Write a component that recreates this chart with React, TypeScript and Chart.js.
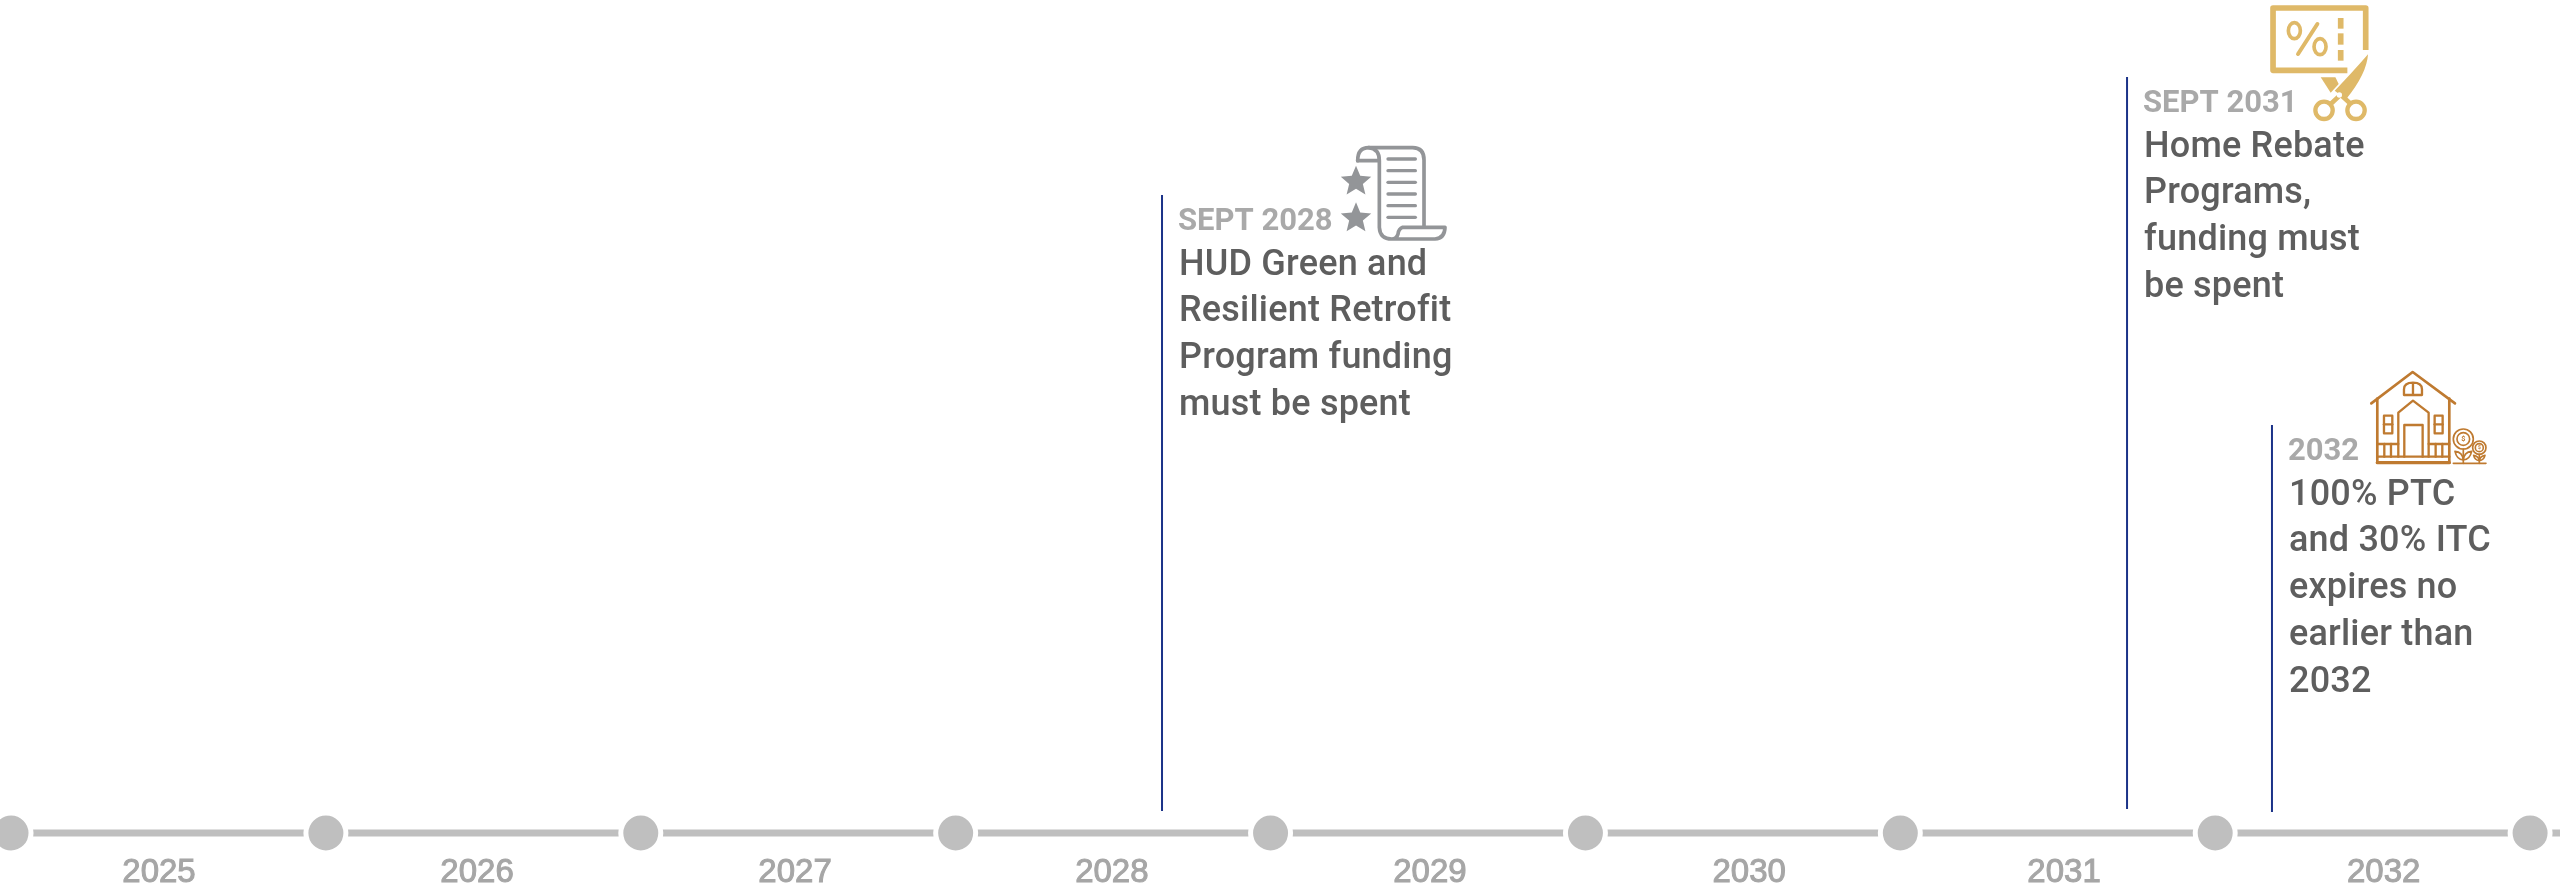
import React, { useEffect, useRef } from "react";
import { Chart, registerables } from "chart.js";

Chart.register(...registerables);

// Timeline nodes sit on year boundaries; year captions sit between them.
const nodeYears = [2025, 2026, 2027, 2028, 2029, 2030, 2031, 2032, 2033];
const yearLabels = ["2025", "2026", "2027", "2028", "2029", "2030", "2031", "2032"];
const yearLabelPositions = [2025.47, 2026.48, 2027.49, 2028.496, 2029.506, 2030.52, 2031.52, 2032.535];

// Milestones: date on the axis, and where each stem starts and ends above it.
const milestoneDates = [2028.6553, 2031.72, 2032.1803];
const stemBases = [22, 24, 21];
const stemTops = [638, 756, 408];
const milestoneHeadings = ["SEPT 2028", "SEPT 2031", "2032"];
const milestoneBodies = [
  ["HUD Green and", "Resilient Retrofit", "Program funding", "must be spent"],
  ["Home Rebate", "Programs,", "funding must", "be spent"],
  ["100% PTC", "and 30% ITC", "expires no", "earlier than", "2032"],
];

const AXIS_MIN = 2024.965;
const AXIS_MAX = 2033.095;
const GREY = "#bfbfbf";
const STEM = "#1b3388";
const HEADING = "#a9a9a9";
const BODY = "#5e5e5e";
const BODY_FONT = "500 36px Roboto";
const HEADING_FONT = "700 31px Roboto";

type Ctx = CanvasRenderingContext2D;

function star(ctx: Ctx, cx: number, cy: number, r: number) {
  ctx.beginPath();
  for (let i = 0; i < 10; i++) {
    const rad = i % 2 === 0 ? r : r * 0.45;
    const a = -Math.PI / 2 + (i * Math.PI) / 5;
    ctx.lineTo(cx + rad * Math.cos(a), cy + rad * Math.sin(a));
  }
  ctx.closePath();
  ctx.fill();
}

function line(ctx: Ctx, pts: number[]) {
  ctx.beginPath();
  ctx.moveTo(pts[0], pts[1]);
  for (let i = 2; i < pts.length; i += 2) ctx.lineTo(pts[i], pts[i + 1]);
  ctx.stroke();
}

function circle(ctx: Ctx, cx: number, cy: number, r: number) {
  ctx.beginPath();
  ctx.arc(cx, cy, r, 0, Math.PI * 2);
  ctx.stroke();
}

// Icons are authored on a 3x grid and scaled down when drawn.
function scrollIcon(ctx: Ctx) {
  ctx.strokeStyle = ctx.fillStyle = "#939598";
  ctx.lineWidth = 11;
  ctx.lineCap = "round";
  ctx.lineJoin = "round";
  ctx.stroke(new Path2D("M683 92 Q683 53 716 53 L848 53 Q882 53 882 90 L882 290"));
  ctx.stroke(new Path2D("M683 92 L748 92 M716 53 Q748 56 748 92 L748 292 Q750 327 785 327 L915 327 Q944 325 945 292 L818 292 Q806 296 804 312 Q800 327 785 327"));
  ctx.lineWidth = 10;
  for (const y of [87, 122, 157, 192, 227, 262]) line(ctx, [774, y, 856, y]);
  star(ctx, 678, 155, 48);
  star(ctx, 678, 265, 48);
}

function scissorsIcon(ctx: Ctx) {
  ctx.strokeStyle = ctx.fillStyle = "#dfb968";
  ctx.lineCap = "butt";
  ctx.lineJoin = "round";
  ctx.lineWidth = 17;
  line(ctx, [797, 150, 797, 24, 519, 24, 519, 211, 742, 211]);
  ctx.lineWidth = 11;
  ctx.beginPath();
  ctx.ellipse(583, 92, 18, 24, 0, 0, Math.PI * 2);
  ctx.stroke();
  ctx.beginPath();
  ctx.ellipse(660, 140, 18, 24, 0, 0, Math.PI * 2);
  ctx.stroke();
  ctx.lineWidth = 12;
  ctx.lineCap = "round";
  line(ctx, [652, 72, 594, 162]);
  ctx.lineCap = "butt";
  ctx.lineWidth = 17;
  line(ctx, [722, 54, 722, 86]);
  line(ctx, [722, 100, 722, 134]);
  line(ctx, [722, 150, 722, 182]);
  ctx.fill(new Path2D("M804 163 Q800 222 738 298 L704 272 Q750 225 804 163 Z"));
  ctx.fill(new Path2D("M662 232 L706 232 L716 252 L692 278 Z"));
  ctx.lineWidth = 14;
  line(ctx, [692, 312, 722, 284, 750, 310]);
  ctx.lineWidth = 13;
  circle(ctx, 672, 331, 26);
  circle(ctx, 768, 331, 26);
  ctx.fillStyle = "#ffffff";
  ctx.beginPath();
  ctx.arc(718, 285, 8, 0, Math.PI * 2);
  ctx.fill();
}

function houseIcon(ctx: Ctx) {
  ctx.strokeStyle = ctx.fillStyle = "#bf7a30";
  ctx.lineCap = "round";
  ctx.lineJoin = "round";
  ctx.lineWidth = 8;
  line(ctx, [394, 160, 518, 66, 645, 160]);
  line(ctx, [412, 146, 412, 338]);
  line(ctx, [628, 146, 628, 338]);
  ctx.lineWidth = 10;
  line(ctx, [412, 338, 628, 338]);
  ctx.lineWidth = 7;
  line(ctx, [412, 320, 628, 320]);
  ctx.stroke(new Path2D("M492 135 L492 118 Q492 98 519 98 Q546 98 546 118 L546 135 Z M519 98 L519 135"));
  line(ctx, [475, 320, 475, 188, 519, 152, 566, 188, 566, 320]);
  line(ctx, [493, 320, 493, 225, 548, 225, 548, 320]);
  ctx.strokeRect(432, 197, 25, 53);
  ctx.strokeRect(584, 197, 24, 53);
  line(ctx, [432, 223, 457, 223]);
  line(ctx, [584, 223, 608, 223]);
  line(ctx, [412, 282, 475, 282]);
  line(ctx, [566, 282, 628, 282]);
  for (const x of [433, 453, 587, 607]) line(ctx, [x, 282, x, 320]);
  ctx.lineWidth = 5;
  circle(ctx, 670, 267, 30);
  circle(ctx, 670, 267, 19);
  circle(ctx, 718, 293, 20);
  circle(ctx, 718, 293, 12);
  line(ctx, [640, 340, 738, 340]);
  line(ctx, [670, 297, 670, 340]);
  line(ctx, [718, 313, 718, 340]);
  ctx.stroke(new Path2D("M670 330 Q650 328 645 304 Q668 306 670 330 Q690 328 695 304 Q672 306 670 330"));
  ctx.stroke(new Path2D("M718 332 Q704 330 701 316 Q716 318 718 332 Q732 330 735 316 Q720 318 718 332"));
  ctx.font = "700 22px Roboto";
  ctx.textAlign = "center";
  ctx.textBaseline = "middle";
  ctx.fillText("$", 670, 268);
  ctx.font = "700 15px Roboto";
  ctx.fillText("$", 718, 294);
}

// Grid origin of each icon relative to the top of its stem.
const iconPainters = [
  { paint: scrollIcon, dx: -32, dy: -65 },
  { paint: scissorsIcon, dx: -27, dy: -77 },
  { paint: houseIcon, dx: -32, dy: -75 },
];

const milestoneText = {
  id: "milestoneText",
  afterDatasetsDraw(chart: Chart) {
    const ctx = chart.ctx;
    const x = chart.scales.x;
    const y = chart.scales.y;
    milestoneDates.forEach((date, i) => {
      const px = x.getPixelForValue(date);
      const top = y.getPixelForValue(stemTops[i]);
      ctx.save();
      ctx.textAlign = "left";
      ctx.textBaseline = "alphabetic";
      ctx.font = HEADING_FONT;
      ctx.fillStyle = HEADING;
      ctx.fillText(milestoneHeadings[i], px + 16, top + 34.5);
      ctx.font = BODY_FONT;
      (ctx as any).letterSpacing = "0.2px";
      ctx.fillStyle = BODY;
      milestoneBodies[i].forEach((text, n) => {
        ctx.fillText(text, px + 17, top + 79.5 + n * 46.8);
      });
      ctx.restore();

      const icon = iconPainters[i];
      ctx.save();
      ctx.translate(px + icon.dx, top + icon.dy);
      ctx.scale(1 / 3, 1 / 3);
      icon.paint(ctx);
      ctx.restore();
    });
  },
};

export default function App() {
  const canvasRef = useRef<HTMLCanvasElement>(null);

  useEffect(() => {
    const stems = milestoneDates.map((date, i) => ({
      type: "line" as const,
      data: [
        { x: date, y: stemBases[i] },
        { x: date, y: stemTops[i] },
      ],
      borderColor: STEM,
      borderWidth: 2,
      pointRadius: 0,
      order: 3,
    }));

    const chart = new Chart(canvasRef.current!, {
      type: "line",
      data: {
        datasets: [
          ...stems,
          {
            // Rail plus nodes; the white ring opens the gap around each node.
            data: [
              { x: AXIS_MIN, y: 0 },
              ...nodeYears.map((year) => ({ x: year, y: 0 })),
              { x: AXIS_MAX, y: 0 },
            ],
            borderColor: GREY,
            borderWidth: 7,
            borderCapStyle: "butt",
            pointRadius: [0, ...nodeYears.map(() => 20), 0],
            pointBorderWidth: 5,
            pointBorderColor: "#ffffff",
            pointBackgroundColor: GREY,
            clip: false,
            order: 1,
          },
        ],
      },
      options: {
        animation: false,
        responsive: false,
        parsing: false,
        normalized: true,
        layout: { padding: 0, autoPadding: false },
        plugins: { legend: { display: false }, tooltip: { enabled: false } },
        scales: {
          x: {
            type: "linear",
            min: AXIS_MIN,
            max: AXIS_MAX,
            grid: { display: false, drawTicks: false },
            border: { display: false },
            afterFit(scale: any) {
              scale.height = 60;
            },
            afterBuildTicks(scale: any) {
              scale.ticks = yearLabelPositions.map((value) => ({ value }));
            },
            ticks: {
              autoSkip: false,
              maxRotation: 0,
              minRotation: 0,
              padding: 20,
              color: "#a6a6a6",
              textStrokeColor: "#a6a6a6",
              textStrokeWidth: 1,
              font: { family: "Liberation Sans", size: 33 },
              callback(value: any) {
                return yearLabels[yearLabelPositions.indexOf(value)];
              },
            },
          },
          y: { type: "linear", min: 0, max: 833, display: false },
        },
      },
      plugins: [milestoneText],
    } as any);

    return () => chart.destroy();
  }, []);

  return (
    <canvas
      ref={canvasRef}
      width={2560}
      height={893}
      style={{ position: "absolute", left: 0, top: 0, width: 2560, height: 893 }}
    />
  );
}
